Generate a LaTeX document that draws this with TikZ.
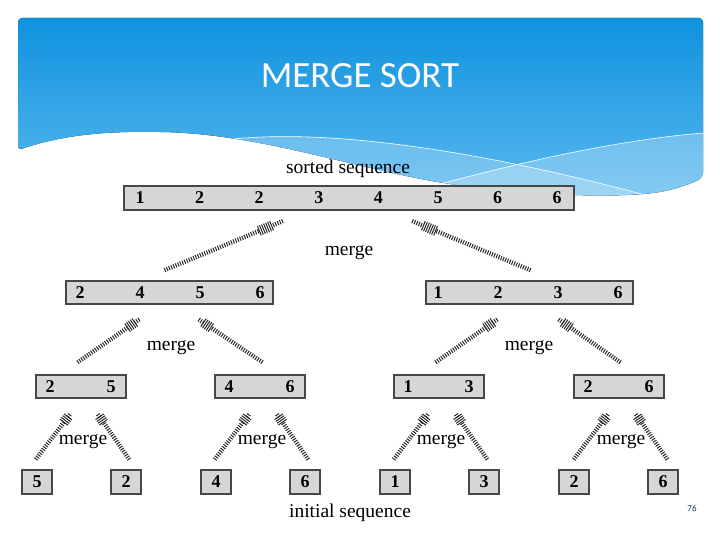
\documentclass[tikz,border=0pt]{standalone}
\usepackage{fontspec}
\setmainfont{Liberation Serif}
\newfontfamily\titlefont{Carlito}
\usepackage{tikz}
\usetikzlibrary{calc,decorations.pathreplacing,positioning}

\definecolor{bannertop}{HTML}{0F92DE}
\definecolor{bannerbot}{HTML}{5AB9EF}
\definecolor{cellgray}{HTML}{D6D6D6}
\definecolor{pagenum}{HTML}{1E3A5C}

\tikzset{
  cell/.style={draw=black!72, fill=cellgray, line width=1.4pt, minimum height=23pt, inner sep=0pt,
               font=\fontsize{18}{18}\selectfont\bfseries},
  num/.style={font=\fontsize{18}{18}\selectfont\bfseries, inner sep=0pt},
  lbl/.style={font=\fontsize{19.5}{19.5}\selectfont},
  hatch/.style={draw=black!85, decorate, decoration={ticks, segment length=2.4pt, amplitude=2.2pt}, line width=1pt},
  hatchhead/.style={draw=black!85, decorate, decoration={ticks, segment length=2.2pt, amplitude=5pt}, line width=1pt},
}
% hatched merge arrow, drawn from #1 up to #2
\newcommand{\mergearrow}[2]{%
  \draw[hatch] (#1) -- ($(#1)!0.8!(#2)$);
  \draw[hatchhead] ($(#1)!0.8!(#2)$) -- ($(#1)!0.92!(#2)$);
  \draw[hatch] ($(#1)!0.92!(#2)$) -- (#2);}

\begin{document}
\begin{tikzpicture}[x=1pt, y=-1pt]
  \useasboundingbox (0,0) rectangle (720,540);

  % blue banner with wave
  \fill[top color=bannertop, bottom color=bannerbot, rounded corners=4pt]
    (18,150) -- (18,18) -- (703,18) -- (703,177)
    .. controls (695,182) and (680,188) .. (660,192)
    .. controls (620,198) and (530,196) .. (450,184)
    .. controls (360,170) and (260,134) .. (160,132)
    .. controls (100,131) and (60,136) .. (18,150) -- cycle;
  \begin{scope}
    \clip (18,150) -- (18,18) -- (703,18) -- (703,177)
      .. controls (695,182) and (680,188) .. (660,192)
      .. controls (620,198) and (530,196) .. (450,184)
      .. controls (360,170) and (260,134) .. (160,132)
      .. controls (100,131) and (60,136) .. (18,150) -- cycle;
    \fill[white, opacity=.22] (225,140) .. controls (320,128) and (470,148) .. (645,195)
      -- (720,260) -- (0,260) -- cycle;
    \fill[white, opacity=.25] (440,184) .. controls (530,160) and (620,140) .. (703,133)
      -- (720,133) -- (720,260) -- (440,260) -- cycle;
    \draw[white, line width=0.6pt] (225,140) .. controls (320,128) and (470,148) .. (645,195);
    \draw[white, line width=0.6pt] (440,184) .. controls (530,160) and (620,140) .. (703,133);
  \end{scope}

  \node[font=\titlefont\fontsize{37}{37}\selectfont, text=white] (title) at (360,76) {MERGE SORT};

  % sorted sequence
  \node[lbl] (sorted) at (348,169) {sorted sequence};
  \node[cell, minimum width=450pt, minimum height=24pt] (top) at (349,198) {};
  \foreach \v [count=\i] in {1,2,2,3,4,5,6,6}
    \node[num] (t\i) at ({140+59.6*(\i-1)},198) {\v};

  % second row
  \node[cell, minimum width=207pt] (left) at (169.5,292.5) {};
  \foreach \v [count=\i] in {2,4,5,6}
    \node[num] (l\i) at ({80+60*(\i-1)},292.5) {\v};
  \node[cell, minimum width=207pt] (right) at (529.5,292.5) {};
  \foreach \v [count=\i] in {1,2,3,6}
    \node[num] (r\i) at ({438+60*(\i-1)},292.5) {\v};

  \coordinate (ua1) at (165,270);
  \coordinate (ub1) at (283,221);
  \coordinate (ua2) at (530,270);
  \coordinate (ub2) at (412,221);
  \mergearrow{ua1}{ub1}
  \mergearrow{ua2}{ub2}
  \node[lbl] (m0) at (349,253) {merge};

  % third row
  \foreach \c/\a/\b [count=\k] in {81/2/5, 260/4/6, 439/1/3, 619/2/6} {
    \node[cell, minimum width=90pt] (p\k) at (\c,386.5) {};
    \node[num] (p\k a) at (\c-31,386.5) {\a};
    \node[num] (p\k b) at (\c+30,386.5) {\b};
    \coordinate (wa\k) at (\c-45,459);
    \coordinate (wb\k) at (\c-10,413);
    \coordinate (xa\k) at (\c+48,459);
    \coordinate (xb\k) at (\c+16,413);
    \mergearrow{wa\k}{wb\k}
    \mergearrow{xa\k}{xb\k}
    \node[lbl] (mm\k) at (\c+2,442) {merge};
  }

  \coordinate (va1) at (78,362);
  \coordinate (vb1) at (140,319);
  \coordinate (va2) at (262,362);
  \coordinate (vb2) at (198,319);
  \coordinate (va3) at (436,362);
  \coordinate (vb3) at (498,319);
  \coordinate (va4) at (620,362);
  \coordinate (vb4) at (558,319);
  \foreach \k in {1,...,4} {
    \mergearrow{va\k}{vb\k}
  }
  \node[lbl] (ml) at (171,348) {merge};
  \node[lbl] (mr) at (529,348) {merge};

  % initial sequence
  \foreach \c/\v [count=\k] in {37/5,126/2,216/4,305/6,395/1,484/3,574/2,663/6}
    \node[cell, minimum width=30pt, minimum height=24pt] (q\k) at (\c,482) {\v};
  \node[lbl] (initial) at (350,513) {initial sequence};

  \node[font=\titlefont\fontsize{9}{9}\selectfont, text=pagenum] (pg) at (692,508) {76};
\end{tikzpicture}
\end{document}
